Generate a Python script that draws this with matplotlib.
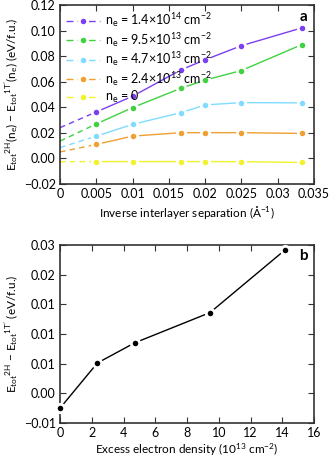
import matplotlib
matplotlib.use("Agg")
import matplotlib.pyplot as plt
from matplotlib.lines import Line2D

plt.rcParams['font.family'] = ['Lato', 'DejaVu Sans']
plt.rcParams['mathtext.fontset'] = 'custom'
plt.rcParams['mathtext.rm'] = 'Lato'
plt.rcParams['mathtext.it'] = 'Lato:italic'
plt.rcParams['font.size'] = 9

MINUS = '\u2212'

# panel a data
inv_sep = [0.005, 0.01, 0.0167, 0.02, 0.025, 0.0333]
e_14 = [0.0364, 0.0487, 0.0694, 0.0772, 0.0882, 0.1021]
e_95 = [0.0270, 0.0398, 0.0550, 0.0613, 0.0688, 0.0890]
e_47 = [0.0175, 0.0267, 0.0359, 0.0419, 0.0437, 0.0435]
e_24 = [0.0110, 0.0175, 0.0202, 0.0202, 0.0202, 0.0196]
e_0 = [-0.0024, -0.0024, -0.0024, -0.0024, -0.0025, -0.0031]

# extrapolated values at infinite separation (panel b)
density = [0.0, 2.35, 4.7, 9.45, 14.15]
e_inf = [-0.0025, 0.0051, 0.0085, 0.0136, 0.0241]

series = [e_14, e_95, e_47, e_24, e_0]
intercepts = e_inf[::-1]
labels = [r'n$_\mathrm{e}$ = 1.4×10$^{14}$ cm$^{-2}$',
          r'n$_\mathrm{e}$ = 9.5×10$^{13}$ cm$^{-2}$',
          r'n$_\mathrm{e}$ = 4.7×10$^{13}$ cm$^{-2}$',
          r'n$_\mathrm{e}$ = 2.4×10$^{13}$ cm$^{-2}$',
          r'n$_\mathrm{e}$ = 0']
colors = ['#7b3ff2', '#3fd23f', '#80dcff', '#f0a030', '#f2f22a']

spine_c = '#333333'

fig = plt.figure(figsize=(3.29, 4.59), dpi=100)
ax1 = fig.add_axes([0.1824, 0.599, 0.772, 0.390])
ax2 = fig.add_axes([0.1824, 0.0784, 0.772, 0.388])

mk = dict(marker='o', markersize=6, markeredgecolor='white', markeredgewidth=2)

handles = []
for ys, y0, c, lab in zip(series, intercepts, colors, labels):
    ax1.plot([0, inv_sep[0]], [y0, ys[0]], color=c, lw=1, ls=(0, (4, 3)), zorder=2)
    ax1.plot(inv_sep, ys, color=c, lw=1, zorder=2)
    ax1.plot(inv_sep, ys, ls='none', color=c, zorder=3, **mk)
    handles.append(Line2D([], [], color=c, lw=1, ls=(0, (5, 3)), label=lab, **mk))

ax1.set_xlim(0, 0.035)
ax1.set_ylim(-0.02, 0.12)
ax1.set_xticks([0, 0.005, 0.01, 0.015, 0.02, 0.025, 0.03, 0.035])
ax1.set_xticklabels(['0', '0.005', '0.01', '0.015', '0.02', '0.025', '0.03', '0.035'])
ax1.set_yticks([-0.02, 0, 0.02, 0.04, 0.06, 0.08, 0.10, 0.12])
ax1.set_yticklabels([MINUS + '0.02', '0.00', '0.02', '0.04', '0.06', '0.08', '0.10', '0.12'])
ax1.set_xlabel('Inverse interlayer separation (Å$^{-1}$)', labelpad=3, fontsize=8.5)
ax1.set_ylabel(r"E$_\mathrm{tot}{}^\mathrm{2H}$(n$_\mathrm{e}$) " + MINUS +
               r" E$_\mathrm{tot}{}^\mathrm{1T'}$(n$_\mathrm{e}$) (eV/f.u.)",
               labelpad=3, fontsize=8.5)
ax1.legend(handles=handles, loc='upper left', frameon=False, handlelength=2.7,
           handletextpad=0.4, labelspacing=0.12, borderaxespad=0.1, fontsize=9)
ax1.text(0.975, 0.935, 'a', transform=ax1.transAxes, ha='right', va='center',
         fontsize=11, fontweight='bold')

# panel b
ax2.plot(density, e_inf, color='black', lw=1, zorder=2)
ax2.plot(density, e_inf, ls='none', color='black', zorder=3, clip_on=False, **mk)
ax2.set_xlim(0, 16)
ax2.set_ylim(-0.005, 0.025)
ax2.set_xticks(range(0, 17, 2))
ax2.set_yticks([-0.005, 0.0, 0.005, 0.01, 0.015, 0.02, 0.025])
ax2.set_yticklabels([MINUS + '0.01', '0.00', '0.01', '0.01', '0.01', '0.02', '0.03'])
ax2.set_xlabel('Excess electron density (10$^{13}$ cm$^{-2}$)', labelpad=2, fontsize=8.5)
ax2.set_ylabel(r"E$_\mathrm{tot}{}^\mathrm{2H}$ " + MINUS +
               r" E$_\mathrm{tot}{}^\mathrm{1T'}$ (eV/f.u.)", labelpad=3, fontsize=8.5)
ax2.text(0.975, 0.935, 'b', transform=ax2.transAxes, ha='right', va='center',
         fontsize=11, fontweight='bold')

for ax in (ax1, ax2):
    ax.tick_params(direction='in', top=True, right=True, length=4, width=0.8,
                   color=spine_c, labelsize=9, pad=3)
    for s in ax.spines.values():
        s.set_color(spine_c)
        s.set_linewidth(1.2)

fig.savefig('out.png', dpi=100)
